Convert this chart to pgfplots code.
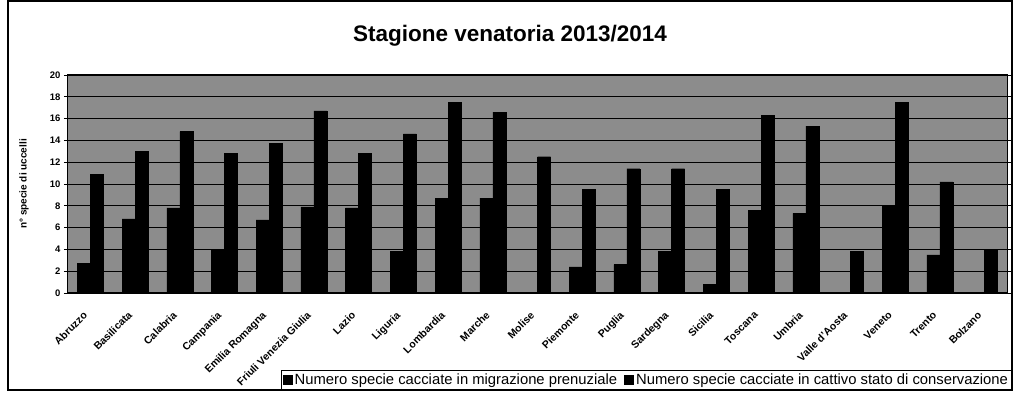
\documentclass[border=0pt]{standalone}
\usepackage{pgfplots}
\pgfplotsset{compat=1.18}
\usepackage{pgfplotstable}
\usepackage{fontspec}
\setmainfont{Liberation Sans}
\pgfplotstableread{
idx s1 s2
0 2.7 10.9
1 6.8 13.0
2 7.8 14.8
3 3.9 12.8
4 6.7 13.7
5 7.9 16.7
6 7.8 12.8
7 3.8 14.6
8 8.7 17.5
9 8.7 16.6
10 0 12.5
11 2.4 9.5
12 2.6 11.4
13 3.8 11.4
14 0.8 9.5
15 7.6 16.3
16 7.3 15.3
17 0 3.8
18 8.0 17.5
19 3.5 10.2
20 0 4.0
}\datatable
\begin{document}
\begin{tikzpicture}[x=1pt,y=1pt]
\path[use as bounding box] (0,0) rectangle (1015,417);
\draw[line width=1.4pt] (8,27) rectangle (1012,416);
\node[font=\bfseries\fontsize{22.5}{22.5}\selectfont] at (510,381) {Stagione venatoria 2013/2014};
\begin{axis}[
  at={(68pt,124pt)}, anchor=south west,
  scale only axis, width=939pt, height=218pt,
  xmin=-0.5, xmax=20.5, ymin=0, ymax=20,
  ytick={0,2,...,20},
  xtick={0,...,20},
  xticklabels={Abruzzo,Basilicata,Calabria,Campania,Emilia Romagna,Friuli Venezia Giulia,Lazio,Liguria,Lombardia,Marche,Molise,Piemonte,Puglia,Sardegna,Sicilia,Toscana,Umbria,Valle d'Aosta,Veneto,Trento,Bolzano},
  x tick label style={rotate=45, anchor=north east, font=\bfseries\fontsize{10.5}{10.5}\selectfont, inner sep=1pt, yshift=-3pt, xshift=-14pt},
  y tick label style={font=\bfseries\fontsize{9.5}{9.5}\selectfont},
  /pgf/number format/assume math mode=true,
  xtick style={draw=none},
  ytick style={black, line width=0.8pt},
  major tick length=4pt,
  tick align=outside,
  ylabel={n° specie di uccelli},
  ylabel style={font=\bfseries\fontsize{10}{10}\selectfont, at={(axis description cs:-0.038,0.5)}},
  ybar=0pt, bar width=13pt,
  axis background/.style={fill=black!45},
  ymajorgrids, grid style={black, line width=0.9pt},
  axis line style={black, line width=1pt},
  legend columns=2,
  legend style={at={(axis description cs:1,0)}, anchor=north east, xshift=5pt, yshift=-77pt,
    draw=black, line width=1pt, font=\fontsize{14.8}{14.8}\selectfont, inner sep=1.5pt,
    /tikz/every even column/.append style={column sep=5pt}},
  legend image code/.code={\fill[black] (0pt,-4.5pt) rectangle (9pt,4.5pt);},
]
\addplot[fill=black, draw=black] table[x=idx, y=s1] {\datatable};
\addplot[fill=black, draw=black] table[x=idx, y=s2] {\datatable};
\legend{Numero specie cacciate in migrazione prenuziale, Numero specie cacciate in cattivo stato di conservazione}
\end{axis}
\end{tikzpicture}
\end{document}
